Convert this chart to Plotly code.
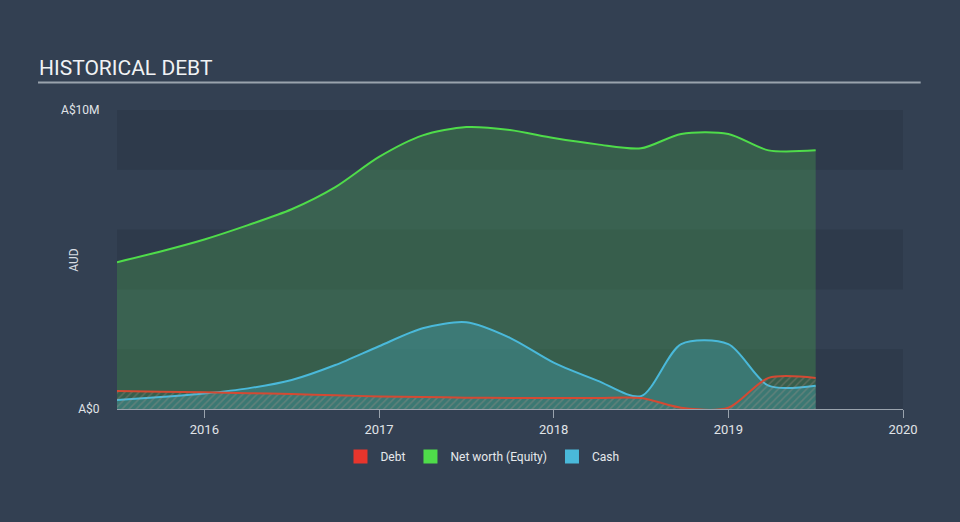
import plotly.graph_objects as go

years = [2015.5, 2015.75, 2016.0, 2016.25, 2016.5, 2016.75, 2017.0, 2017.25, 2017.5, 2017.75,
         2018.0, 2018.25, 2018.5, 2018.73, 2019.0, 2019.23, 2019.5]
net_worth = [4.91, 5.27, 5.67, 6.15, 6.68, 7.42, 8.43, 9.15, 9.43, 9.33,
             9.06, 8.85, 8.72, 9.2, 9.2, 8.65, 8.65]
cash = [0.3, 0.4, 0.52, 0.69, 0.97, 1.47, 2.1, 2.7, 2.9, 2.38,
        1.55, 0.95, 0.43, 2.17, 2.17, 0.78, 0.78]
debt = [0.6, 0.58, 0.56, 0.53, 0.5, 0.46, 0.42, 0.4, 0.38, 0.37,
        0.37, 0.37, 0.37, 0.04, 0.04, 1.04, 1.04]
tick_years = [2016, 2017, 2018, 2019, 2020]

M = 1e6
C_DEBT = "#e8352c"
C_NET = "#4fdc4a"
C_CASH = "#4ab9da"
SM = 0.8

fig = go.Figure()
fig.add_trace(go.Scatter(x=years, y=[v * M for v in net_worth], name="Net worth (Equity)", showlegend=False,
                         mode="lines", line=dict(color=C_NET, width=2, shape="spline", smoothing=SM),
                         fill="tozeroy", fillcolor="rgba(76,180,80,0.30)"))
fig.add_trace(go.Scatter(x=years, y=[v * M for v in cash], name="Cash", showlegend=False,
                         mode="lines", line=dict(color=C_CASH, width=2, shape="spline", smoothing=SM),
                         fill="tozeroy", fillcolor="rgba(70,170,190,0.35)"))
fig.add_trace(go.Scatter(x=years, y=[v * M for v in debt], name="Debt", showlegend=False,
                         mode="lines", line=dict(color="#d44a33", width=2, shape="spline", smoothing=SM),
                         fill="tozeroy", fillcolor="rgba(217,69,47,0.12)",
                         fillpattern=dict(shape="/", fgcolor="rgba(190,150,140,0.55)", bgcolor="rgba(0,0,0,0)",
                                          size=5, solidity=0.3)))

# legend entries as coloured squares
for nm, col in [("Debt", C_DEBT), ("Net worth (Equity)", C_NET), ("Cash", C_CASH)]:
    fig.add_trace(go.Scatter(x=[None], y=[None], name=nm, mode="markers",
                             marker=dict(symbol="square", size=14, color=col)))

shapes = []
for lo in [0, 4, 8]:
    shapes.append(dict(type="rect", xref="paper", yref="y", x0=0, x1=1, y0=lo * M, y1=(lo + 2) * M,
                       fillcolor="#2e3a4b", line=dict(width=0), layer="below"))
shapes.append(dict(type="line", xref="paper", yref="paper", x0=-0.1005, x1=1.0225, y0=1.092, y1=1.092,
                   line=dict(color="#9aa3ad", width=2)))

fig.update_layout(
    width=960, height=522,
    paper_bgcolor="#334052", plot_bgcolor="#334052",
    margin=dict(l=117, r=57, t=110, b=113),
    font=dict(family="Roboto", color="#d8dde3", size=12),
    shapes=shapes,
    showlegend=True,
    legend=dict(orientation="h", x=0.465, xanchor="center", y=-0.11, yanchor="top",
                font=dict(size=12, color="#e6e9ec"), bgcolor="rgba(0,0,0,0)", itemwidth=30),
    annotations=[
        dict(text="HISTORICAL DEBT", xref="paper", yref="paper", x=-0.1015, y=1.093, xanchor="left", yanchor="bottom",
             showarrow=False, font=dict(size=21, color="#f0f2f4", family="Roboto")),
        dict(text="AUD", xref="paper", yref="paper", x=-0.067, y=0.5, textangle=-90, showarrow=False,
             font=dict(size=12, color="#d8dde3")),
    ],
)
fig.update_xaxes(range=[2015.5, 2020.0], tickvals=tick_years, ticktext=[str(t) for t in tick_years],
                 showgrid=False, zeroline=False, showline=True, linecolor="#9aa3ad", linewidth=1,
                 ticks="outside", ticklen=8, tickcolor="#9aa3ad", tickfont=dict(size=13, color="#e0e4e8"))
fig.update_yaxes(range=[0, 10 * M], tickvals=[0, 10 * M], ticktext=["A$0", "A$10M"], showgrid=False,
                 zeroline=False, showline=False, ticks="outside", ticklen=14, tickcolor="rgba(0,0,0,0)",
                 tickfont=dict(size=12, color="#e0e4e8"))

fig.write_html("out.html")
